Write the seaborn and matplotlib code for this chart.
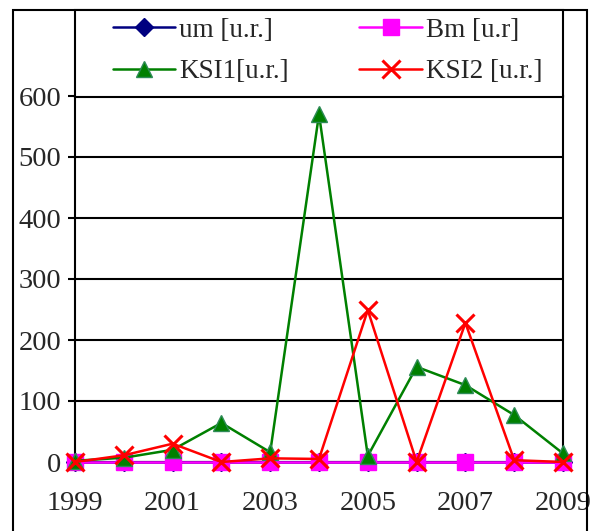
import matplotlib
matplotlib.use("Agg")
import matplotlib.pyplot as plt
import seaborn as sns
from matplotlib.patches import Rectangle

years = [1999, 2000, 2001, 2002, 2003, 2004, 2005, 2006, 2007, 2008, 2009]
um = [0, 0, 0, 0, 0, 0, 0, 0, 0, 0, 0]
bm = [0, 0, 0, 0, 0, 0, 0, 0, 0, 0, 0]
ksi1 = [2, 7, 20, 64, 16, 570, 10, 156, 126, 77, 14]
ksi2 = [0, 11, 30, 0, 6, 5, 249, 0, 228, 3, 0]
labels = ["um [u.r.]", "Bm [u.r]", "KSI1[u.r.]", "KSI2 [u.r.]"]
yticks = [0, 100, 200, 300, 400, 500, 600]
xticks = [1999, 2001, 2003, 2005, 2007, 2009]

sns.set_theme(style="white")
plt.rcParams['font.family'] = ['Liberation Serif', 'DejaVu Serif']

W, H = 592, 531
FS = 20.5
LFS = 19.5
fig = plt.figure(figsize=(W / 100, H / 100), dpi=100)
ax = fig.add_axes([75 / W, 1 - 462 / H, (563 - 75) / W, (462 - 96) / H])

series = [
    (um, labels[0], "#000080", "D", 9, "#000080"),
    (bm, labels[1], "#ff00ff", "s", 11, "#ff00ff"),
    (ksi1, labels[2], "#008000", "^", 12, "#2e8b57"),
    (ksi2, labels[3], "#ff0000", "x", 13, "#ff0000"),
]
for vals, lab, col, mk, ms, ec in series:
    sns.lineplot(x=years, y=vals, ax=ax, color=col, marker=mk, markersize=ms,
                 markeredgecolor=ec, markerfacecolor=col, markeredgewidth=2.2 if mk == "x" else 1,
                 linewidth=1.8, label=lab, clip_on=False, zorder=3)

ax.set_xlim(1999, 2009)
ax.set_ylim(0, 600)
ax.set_yticks(yticks)
ax.set_xticks(xticks)
ax.set_yticklabels([str(v) for v in yticks], fontsize=FS)
ax.set_xticklabels([str(v) for v in xticks], fontsize=FS)
ax.tick_params(axis='y', direction='out', length=5, width=1.5, color='black', pad=5, left=True)
ax.tick_params(axis='x', length=0, pad=21)
ax.grid(axis='y', color='black', linewidth=1.5)
ax.grid(axis='x', visible=False)
ax.set_axisbelow(True)
for s in ['left', 'right', 'top', 'bottom']:
    ax.spines[s].set_visible(True)
    ax.spines[s].set_color('black')
    ax.spines[s].set_linewidth(1.5)

handles, labs = ax.get_legend_handles_labels()
ax.get_legend().remove()
order = [0, 2, 1, 3]
# legend frame box
fig.add_artist(Rectangle((75 / W, 1 - 97 / H), (563 - 75) / W, (97 - 10) / H,
                         transform=fig.transFigure, facecolor='white', edgecolor='black',
                         linewidth=1.5, zorder=5))
leg = fig.legend([handles[i] for i in order], [labs[i] for i in order],
                 loc='center left', bbox_to_anchor=(113 / W, 1 - 51 / H),
                 borderaxespad=0, borderpad=0,
                 ncol=2, frameon=False, fontsize=LFS, handlelength=2.3,
                 handletextpad=0.15, columnspacing=2.6, labelspacing=0.6)
leg.set_zorder(6)

# outer frame
fig.add_artist(Rectangle((13 / W, -0.05), (587 - 13) / W, 1.05 - 10 / H,
                         transform=fig.transFigure, facecolor='none', edgecolor='black',
                         linewidth=1.5, zorder=4))

fig.savefig("out.png", dpi=100)
